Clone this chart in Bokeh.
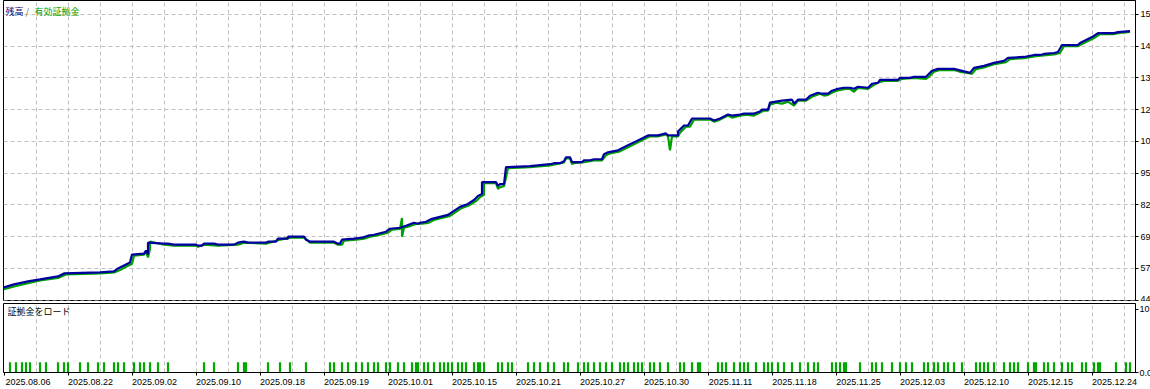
from bokeh.plotting import figure
from bokeh.models import Range1d, FixedTicker, Label
from bokeh.layouts import column
from bokeh.embed import file_html
from bokeh.resources import INLINE

# ---------------- data ----------------
date_labels = ["2025.08.06", "2025.08.22", "2025.09.02", "2025.09.10", "2025.09.18",
               "2025.09.19", "2025.10.01", "2025.10.15", "2025.10.21", "2025.10.27",
               "2025.10.30", "2025.11.11", "2025.11.18", "2025.11.25", "2025.12.03",
               "2025.12.10", "2025.12.15", "2025.12.24"]
date_label_bars = [0, 32, 64, 96, 128, 160, 192, 224, 256, 288, 320, 352, 384, 416, 448, 480, 512, 544]

y_tick_values = [44.4, 57.1, 69.8, 82.5, 95.2, 107.9, 120.6, 133.3, 146.0, 158.7]
y_tick_labels = ["44", "57", "69", "82", "95", "10", "12", "13", "14", "15"]

margin_tick_values = [0, 10]
margin_tick_labels = ["0.0", "10"]

balance_bar = [0, 5, 12, 18, 27, 30, 48, 55, 57, 60, 63, 64, 70, 71, 72, 72, 80, 82, 85, 96, 97, 99,
               100, 105, 107, 115, 117, 120, 122, 131, 132, 136, 137, 142, 142, 150, 151, 153, 165,
               167, 168, 169, 175, 179, 182, 185, 187, 191, 193, 198, 201, 205, 207, 208, 211, 214,
               218, 222, 225, 228, 232, 235, 237, 239, 239, 246, 247, 248, 250, 251, 263, 273, 275,
               278, 280, 281, 283, 284, 289, 290, 293, 295, 299, 300, 302, 307, 312, 316, 319, 322,
               327, 331, 332, 337, 337, 340, 342, 344, 353, 355, 358, 362, 364, 368, 370, 375, 378,
               379, 382, 383, 386, 389, 394, 395, 397, 401, 403, 407, 409, 412, 414, 417, 420, 423,
               425, 427, 432, 434, 437, 438, 447, 448, 453, 455, 461, 462, 464, 467, 475, 477, 481,
               483, 485, 490, 495, 500, 502, 510, 515, 518, 520, 525, 527, 529, 537, 538, 541, 544,
               547, 555, 557, 563]
balance = [49.56, 50.75, 51.94, 52.73, 53.93, 55.12, 55.51, 55.91, 57.10, 58.29, 59.48, 62.66, 63.05,
           64.24, 62.66, 67.42, 67.02, 67.02, 66.63, 66.63, 66.23, 66.23, 67.02, 67.02, 66.63, 66.63,
           67.42, 67.82, 67.42, 67.42, 67.82, 67.82, 69.01, 69.01, 69.80, 69.80, 68.61, 67.82, 67.82,
           67.02, 67.02, 68.61, 69.01, 69.40, 70.20, 70.59, 70.99, 71.78, 72.98, 73.37, 74.17, 75.36,
           74.96, 75.36, 75.75, 76.94, 77.74, 78.53, 80.12, 81.71, 82.90, 84.48, 86.07, 86.87, 91.63,
           91.63, 90.04, 90.83, 90.83, 97.58, 97.98, 98.77, 99.17, 99.17, 99.96, 101.55, 101.55,
           99.57, 99.57, 100.36, 100.36, 100.76, 100.76, 102.74, 103.53, 104.33, 106.31, 107.90,
           109.09, 110.28, 110.28, 111.08, 110.28, 110.28, 111.87, 114.25, 114.25, 117.03, 117.03,
           116.23, 117.03, 118.62, 118.22, 118.62, 119.01, 119.01, 119.81, 120.60, 120.60, 123.38,
           123.78, 124.17, 124.57, 122.98, 124.57, 124.57, 126.16, 127.35, 126.95, 126.95, 128.14,
           128.93, 129.33, 129.33, 128.93, 129.73, 129.33, 130.92, 131.32, 132.51, 132.51, 133.30,
           133.30, 133.70, 133.70, 134.49, 136.08, 136.87, 136.87, 136.48, 135.68, 135.28, 137.27,
           138.06, 139.25, 140.05, 141.24, 141.63, 142.43, 142.43, 142.83, 143.22, 143.62, 146.40,
           146.40, 147.19, 148.38, 149.57, 151.16, 151.16, 151.56, 151.95]

equity_bar = [0, 5, 12, 18, 27, 31, 48, 55, 58, 61, 64, 65, 70, 71, 72, 73, 73, 80, 85, 96, 97, 100,
              107, 117, 120, 131, 137, 143, 150, 152, 153, 165, 167, 169, 170, 176, 180, 183, 186,
              188, 192, 194, 198, 199, 199, 200, 202, 206, 209, 212, 215, 219, 223, 226, 229, 233,
              236, 238, 240, 240, 246, 247, 248, 250, 252, 263, 273, 276, 280, 281, 283, 284, 285,
              290, 295, 299, 301, 303, 308, 313, 317, 320, 323, 327, 331, 332, 333, 334, 337, 338,
              341, 343, 345, 353, 355, 358, 362, 364, 368, 371, 375, 378, 380, 382, 383, 386, 389,
              392, 395, 397, 401, 404, 408, 410, 412, 415, 418, 421, 423, 425, 427, 432, 435, 438,
              440, 447, 449, 455, 461, 463, 465, 468, 475, 478, 482, 484, 486, 491, 496, 501, 503,
              510, 516, 521, 526, 528, 530, 537, 539, 542, 545, 548, 555, 558, 563]
equity = [48.8, 49.9, 51.2, 52.3, 53.3, 54.7, 55.1, 55.5, 56.5, 57.8, 59.0, 62.2, 62.6, 63.8, 61.5,
          65.0, 67.9, 66.6, 66.2, 66.2, 65.8, 66.6, 66.2, 66.6, 67.4, 67.0, 68.4, 69.4, 69.4, 68.2,
          67.4, 67.4, 66.6, 66.6, 68.2, 68.6, 69.0, 69.8, 70.2, 70.6, 71.4, 72.6, 72.9, 77.3, 69.8,
          73.4, 73.8, 74.9, 75.0, 75.3, 76.5, 77.3, 78.1, 79.7, 81.3, 82.5, 84.0, 85.6, 86.5, 91.2,
          91.2, 88.9, 89.6, 90.0, 97.2, 97.6, 98.3, 98.8, 99.5, 101.1, 101.1, 98.8, 99.2, 99.6,
          100.3, 100.3, 102.3, 103.1, 103.9, 105.9, 107.5, 108.7, 109.9, 109.9, 110.7, 109.9,
          104.3, 110.0, 109.9, 111.4, 113.8, 113.8, 116.6, 116.6, 115.8, 116.6, 118.2, 117.4,
          118.2, 118.6, 118.2, 119.4, 120.2, 120.2, 122.6, 123.4, 123.0, 123.8, 122.2, 124.2,
          124.2, 125.7, 126.9, 126.2, 126.5, 127.7, 128.5, 128.9, 128.9, 127.7, 129.3, 128.9,
          130.5, 131.7, 132.1, 132.1, 132.9, 133.3, 132.9, 134.1, 135.7, 136.4, 136.4, 135.7,
          135.3, 134.9, 136.8, 137.7, 138.9, 139.6, 140.8, 141.2, 142.0, 142.4, 142.8, 143.2,
          146.0, 146.0, 146.8, 148.0, 149.2, 150.8, 150.8, 151.2, 151.6]

margin_bar = [3, 6, 9, 11, 13, 18, 21, 27, 30, 32, 38, 42, 47, 50, 55, 57, 60, 65, 68, 70, 73, 77, 82,
              100, 105, 117, 120, 121, 132, 138, 143, 151, 163, 165, 169, 172, 176, 179, 182, 185,
              187, 191, 193, 197, 200, 204, 206, 207, 210, 212, 215, 218, 220, 222, 224, 227, 229,
              231, 235, 237, 238, 240, 247, 249, 252, 254, 262, 265, 268, 272, 275, 280, 282, 287,
              290, 292, 295, 298, 301, 304, 308, 310, 312, 315, 317, 319, 323, 325, 328, 332, 338,
              340, 344, 347, 348, 357, 359, 361, 365, 368, 370, 372, 376, 380, 382, 384, 387, 390,
              394, 398, 402, 405, 407, 414, 416, 418, 420, 421, 428, 434, 436, 439, 444, 448, 451,
              454, 460, 462, 465, 467, 470, 472, 475, 479, 486, 488, 490, 492, 495, 500, 503, 505,
              507, 512, 515, 516, 520, 522, 525, 529, 532, 534, 539, 541, 545, 547, 548, 556, 561, 563]
margin_load = [1.6 for _ in margin_bar]

grid_bars = [16 * k for k in range(1, 36)]

# ---------------- styles ----------------
BLUE = "#0000a0"
GREEN = "#00a000"
GRID = "#c0c0c0"
TICK_FONT = "Liberation Sans"
CJK = "Noto Sans CJK JP"
NB = "\u00a0"


def padded(i, s):
    # centred axis labels made to start at their tick, like MT5's left-aligned ones;
    # the first one is pushed inside the canvas by Bokeh, so it needs only a little padding
    return (NB * 2 if i == 0 else NB * 18) + s


x_range = Range1d(-0.25, 565.75)

p1 = figure(frame_width=1132, height=301, x_range=x_range, y_range=Range1d(44.3, 164.2),
            output_backend="svg", toolbar_location=None, x_axis_location=None,
            y_axis_location="right", min_border_left=3, min_border_right=0,
            min_border_top=0, min_border_bottom=1, background_fill_color="white",
            border_fill_color="white")
p1.outline_line_color = "black"
p1.outline_line_alpha = 1.0
p1.xgrid.ticker = FixedTicker(ticks=grid_bars)
p1.ygrid.ticker = FixedTicker(ticks=y_tick_values)
for g in (p1.xgrid, p1.ygrid):
    g.grid_line_color = GRID
    g.grid_line_dash = "4 3"
    g.grid_line_width = 1
ya = p1.yaxis[0]
ya.ticker = FixedTicker(ticks=y_tick_values)
ya.major_label_overrides = {v: s for v, s in zip(y_tick_values, y_tick_labels)}
ya.major_tick_out = 3
ya.major_tick_in = 0
ya.minor_tick_out = 0
ya.minor_tick_in = 0
ya.major_label_standoff = 2
ya.axis_line_color = "black"
ya.major_label_text_font = TICK_FONT
ya.major_label_text_font_size = "9px"
ya.major_label_text_color = "black"

p1.line(equity_bar, equity, line_color=GREEN, line_width=2.2)
p1.line(balance_bar, balance, line_color=BLUE, line_width=2.2)

p1.add_layout(Label(x=2, y=289, x_units="screen", y_units="screen", text="残高",
                    text_color="#000080", text_font=CJK, text_font_size="9px",
                    text_baseline="middle"))
p1.add_layout(Label(x=22, y=289, x_units="screen", y_units="screen", text="/",
                    text_color="#806000", text_font=CJK, text_font_size="9px",
                    text_baseline="middle"))
p1.add_layout(Label(x=31, y=289, x_units="screen", y_units="screen", text="有効証拠金",
                    text_color=GREEN, text_font=CJK, text_font_size="9px",
                    text_baseline="middle"))

p2 = figure(frame_width=1132, height=88, x_range=x_range, y_range=Range1d(0, 10.9),
            output_backend="svg", toolbar_location=None, y_axis_location="right",
            min_border_left=3, min_border_right=0, min_border_top=2, min_border_bottom=0,
            background_fill_color="white", border_fill_color="white")
p2.outline_line_color = "black"
p2.outline_line_alpha = 1.0
p2.ygrid.visible = False
p2.xgrid.ticker = FixedTicker(ticks=grid_bars)
p2.xgrid.grid_line_color = GRID
p2.xgrid.grid_line_dash = "4 3"

p2.vbar(x=margin_bar, top=margin_load, width=1.1, fill_color="#00a800", line_color=None)

xa = p2.xaxis[0]
xa.ticker = FixedTicker(ticks=date_label_bars)
xa.major_label_overrides = {v: padded(i, s) for i, (v, s) in enumerate(zip(date_label_bars, date_labels))}
xa.major_tick_out = 3
xa.major_tick_in = 0
xa.minor_tick_out = 0
xa.minor_tick_in = 0
xa.major_label_standoff = 1
xa.axis_line_color = "black"
xa.major_label_text_font = TICK_FONT
xa.major_label_text_font_size = "9px"
xa.major_label_text_color = "black"

ya2 = p2.yaxis[0]
ya2.ticker = FixedTicker(ticks=margin_tick_values)
ya2.major_label_overrides = {v: s for v, s in zip(margin_tick_values, margin_tick_labels)}
ya2.major_tick_out = 3
ya2.major_tick_in = 0
ya2.minor_tick_out = 0
ya2.minor_tick_in = 0
ya2.major_label_standoff = 1
ya2.axis_line_color = "black"
ya2.major_label_text_font = TICK_FONT
ya2.major_label_text_font_size = "9px"
ya2.major_label_text_color = "black"

p2.add_layout(Label(x=4, y=61, x_units="screen", y_units="screen", text="証拠金をロード",
                    text_color="black", text_font=CJK, text_font_size="9px",
                    text_baseline="middle"))

layout = column(p1, p2, spacing=0)
open("out.html", "w").write(file_html(layout, INLINE))
